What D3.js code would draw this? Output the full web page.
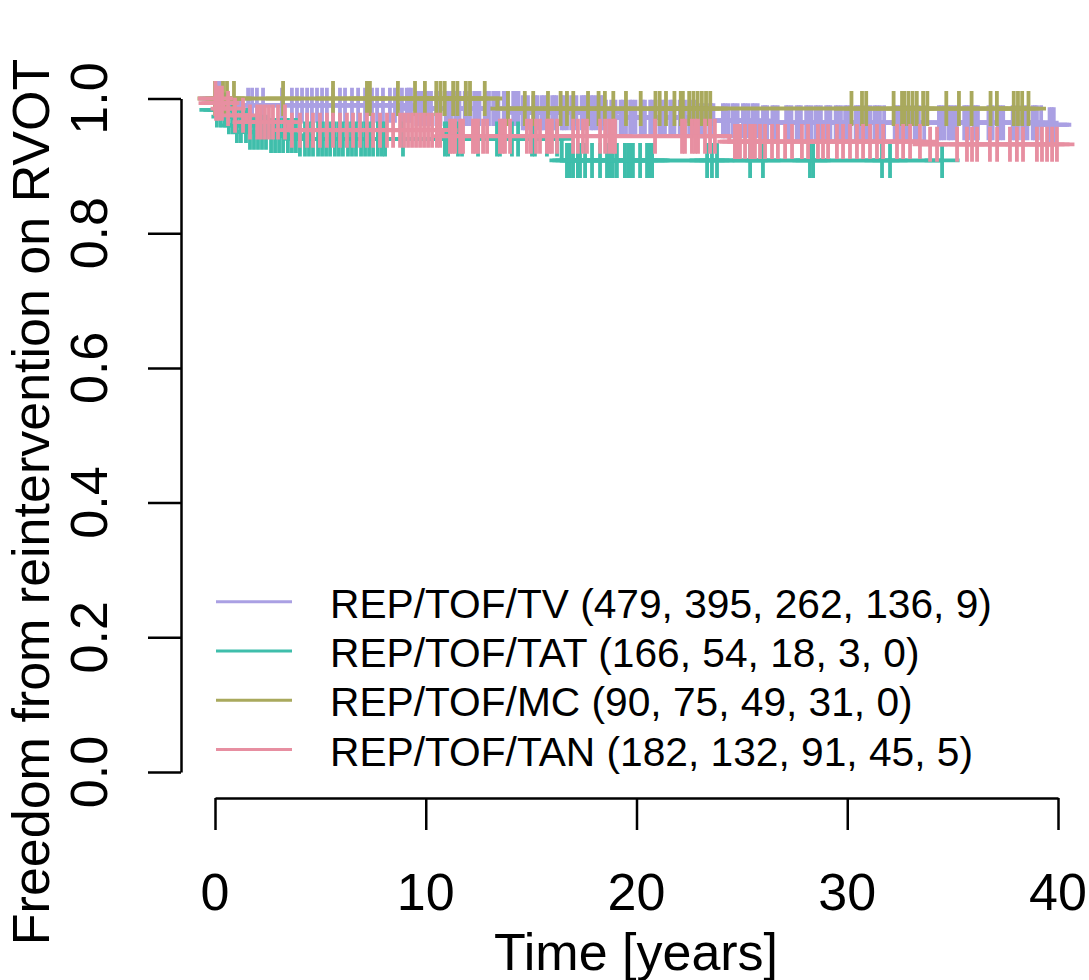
<!doctype html>
<html>
<head>
<meta charset="utf-8">
<title>Freedom from reintervention on RVOT</title>
<script src="https://cdn.jsdelivr.net/npm/d3@7"></script>
<style>
body { margin: 0; background: #fff; }
svg { display: block; font-family: 'Liberation Sans', Arial, Helvetica, sans-serif; }
.axis path, .axis line { stroke: #000; stroke-width: 2.5; fill: none; }
</style>
</head>
<body>
<svg id="chart" width="1089" height="980"></svg>
<script>
// group names and numbers at risk (0,10,20,30,40 years)
var groups = ["REP/TOF/TV", "REP/TOF/TAT", "REP/TOF/MC", "REP/TOF/TAN"];
var atRisk = [[479, 395, 262, 136, 9], [166, 54, 18, 3, 0], [90, 75, 49, 31, 0], [182, 132, 91, 45, 5]];
var colors = ["#aaa0e3", "#3fbeab", "#a9a95d", "#e78fa1"];

var xTicks = [0, 10, 20, 30, 40];
var yTicks = [0, 0.2, 0.4, 0.6, 0.8, 1.0];

// step changes: time (years) and survival
var tvTime = [0, 0.4, 1.2, 9.5, 14.5, 18.5, 23, 26, 39.6];
var tvSurv = [1, 0.996, 0.99, 0.985, 0.979, 0.972, 0.967, 0.964, 0.961];
var tatTime = [0, 0.02, 0.5, 1.0, 1.5, 2.5, 4.0, 16.45];
var tatSurv = [1, 0.983, 0.973, 0.96, 0.95, 0.945, 0.94, 0.908];
var mcTime = [0, 13.4];
var mcSurv = [1, 0.985];
var tanTime = [0, 0.04, 0.4, 0.9, 1.5, 3.5, 10.8, 24.4, 33.5];
var tanSurv = [1, 0.993, 0.985, 0.975, 0.965, 0.953, 0.944, 0.936, 0.932];

// censoring times
var tvCens = [0.1, 0.24, 1.57, 1.76, 1.99, 2.28, 3.18, 3.65, 3.89, 4.13, 4.37, 4.6, 4.84, 5.08, 5.31, 5.6, 5.93, 6.17, 6.5, 6.79, 7.12, 7.45, 7.69, 7.97, 8.3, 8.54, 8.87,
  9.1, 9.2, 9.3, 9.55, 9.65, 9.8, 10.0, 10.1, 10.25, 10.5, 10.6, 10.7, 10.95, 11.05, 11.2, 11.4, 11.5, 11.6, 11.85, 11.95, 12.1, 12.3, 12.4, 12.55, 12.8, 12.9,
  13.0, 13.2, 13.3, 13.45, 13.7, 13.8, 13.9, 14.15, 14.25, 14.4, 14.6, 14.7, 14.85, 15.1, 15.2, 15.3, 15.5, 15.6, 15.75, 16.0, 16.1, 16.2, 16.45, 16.55, 16.7,
  16.9, 17.0, 17.15, 17.4, 17.5, 17.6, 17.85, 17.95, 18.1, 18.3, 18.4, 18.55, 18.8, 18.9, 19.0, 19.25, 19.35, 19.5, 19.7, 19.8, 19.95, 20.2, 20.3, 20.4, 20.65,
  20.75, 20.9, 21.1, 21.2, 21.35, 21.6, 21.7, 21.8, 22.05, 22.15, 22.3, 22.5, 22.6, 22.75, 23.0, 23.1, 23.2, 23.45, 23.55, 23.65, 24.1, 24.2, 24.35, 24.55,
  24.65, 24.8, 25.05, 25.15, 25.3, 25.5, 25.6, 25.75, 26.0, 26.1, 26.2, 26.45, 26.55, 26.7, 27.1, 27.2, 27.35, 27.6, 27.7, 27.8, 28.05, 28.15, 28.3, 28.5,
  28.6, 28.75, 29.0, 29.1, 29.2, 29.45, 29.55, 29.7, 29.9, 30.0, 30.15, 30.4, 30.5, 30.6, 30.85, 30.95, 31.1, 31.3, 31.4, 31.55, 31.75, 32.25, 32.35, 32.5,
  32.7, 32.8, 32.95, 33.2, 33.3, 33.4, 33.65, 34.35, 34.45, 34.6, 34.8, 34.9, 35.05, 35.2, 35.55, 35.65, 35.75, 36.0, 36.1, 36.2, 36.7, 36.8, 36.9, 37.15,
  37.25, 37.4, 37.85, 37.95, 38.1, 38.3, 38.4, 38.55, 38.8, 38.9, 39.0, 39.2, 39.6, 39.7, 39.8];
var tatCens = [0.09, 0.28, 0.47, 0.66, 0.85, 1.04, 1.23, 1.47, 1.66, 1.85, 2.04, 2.23, 2.42, 2.66, 2.85, 3.04, 3.23, 3.46, 3.65, 3.84, 4.03, 4.27, 4.46, 4.65,
  4.89, 5.08, 5.27, 5.46, 5.69, 5.88, 6.07, 6.31, 6.5, 6.69, 6.93, 7.12, 7.31, 7.5, 7.73, 7.92, 8.07, 8.92, 10.91, 11.06, 11.53, 11.72, 12.48, 13.38, 13.52,
  14.09, 14.38, 15.04, 15.18, 15.75, 16.23, 16.7, 16.84, 16.99, 17.22, 17.32, 17.56, 17.89, 18.27, 18.6, 18.74, 18.88, 19.07, 19.45, 19.6, 19.69, 19.83,
  20.17, 20.5, 20.64, 20.74, 23.35, 23.58, 23.82, 25.39, 26.0, 28.23, 28.38, 31.65, 32.03, 34.5];
var mcCens = [0.0, 0.38, 0.57, 0.9, 3.23, 5.6, 7.21, 7.35, 8.68, 9.49, 9.96, 10.5, 10.7, 10.9, 11.3, 11.5, 11.9, 12.1, 12.8, 13.9, 14.7, 15.1, 15.8, 16.4,
  16.7, 17.0, 17.7, 18.2, 18.5, 18.9, 19.5, 20.2, 20.9, 21.1, 21.4, 21.8, 22.1, 22.2, 22.5, 22.7, 22.9, 23.1, 23.3, 23.5, 30.2, 30.7, 30.9, 32.2, 32.6,
  32.7, 32.9, 33.1, 33.3, 33.6, 33.8, 34.7, 35.3, 35.9, 36.8, 37.1, 37.9, 38.1, 38.3, 38.6];
var tanCens = [0.02, 0.05, 0.19, 0.33, 0.62, 0.95, 1.33, 1.66, 2.0, 2.18, 2.37, 2.56, 2.75, 2.99, 3.32, 3.65, 4.03, 4.37, 4.65, 4.98, 5.31, 5.6, 5.93, 6.26,
  6.55, 6.88, 7.21, 7.5, 7.83, 8.16, 8.45, 8.78, 8.97, 9.16, 9.35, 9.54, 9.73, 9.92, 10.11, 10.3, 10.53, 10.68, 11.15, 11.27, 11.39, 11.63, 11.77, 12.24,
  12.36, 12.48, 12.72, 12.91, 13.52, 13.64, 13.76, 14.0, 14.8, 14.99, 15.23, 15.42, 15.75, 15.87, 15.99, 16.23, 16.99, 17.22, 17.46, 17.65, 18.27, 18.51,
  18.7, 18.88, 18.98, 20.88, 22.16, 22.3, 22.63, 22.78, 22.92, 23.25, 23.49, 23.72, 24.67, 24.79, 24.91, 25.15, 25.39, 25.5, 25.62, 25.86, 26.1, 26.43,
  26.71, 27.05, 27.38, 27.85, 28.14, 28.61, 28.85, 29.09, 29.51, 29.8, 30.13, 30.46, 30.75, 31.08, 31.41, 31.7, 32.36, 32.65, 32.98, 33.45, 33.93, 34.26,
  35.21, 35.68, 35.92, 36.16, 36.77, 37.11, 37.72, 38.05, 38.34, 39.0, 39.24, 39.48, 39.72, 39.95];

var curves = [
  {time: tvTime, surv: tvSurv, cens: tvCens},
  {time: tatTime, surv: tatSurv, cens: tatCens},
  {time: mcTime, surv: mcSurv, cens: mcCens},
  {time: tanTime, surv: tanSurv, cens: tanCens}
];

var svg = d3.select("#chart");

var x = d3.scaleLinear().domain([0, 40]).range([215, 1058]);
var y = d3.scaleLinear().domain([0, 1]).range([772, 98.5]);

var markSize = 17.5;

// survival value at time t (step function)
function survAt(c, t) {
  var s = c.surv[0];
  for (var i = 0; i < c.time.length; i++) {
    if (c.time[i] <= t) s = c.surv[i];
  }
  return s;
}

var line = d3.line()
  .x(function(d) { return x(d[0]); })
  .y(function(d) { return y(d[1]); })
  .curve(d3.curveStepAfter);

var gCurves = svg.append("g");
curves.forEach(function(c, i) {
  var last = d3.max(c.cens);
  var pts = c.time.map(function(t, j) { return [t, c.surv[j]]; });
  pts.push([last, survAt(c, last)]);

  gCurves.append("path")
    .datum(pts)
    .attr("d", line)
    .attr("fill", "none")
    .attr("stroke", colors[i])
    .attr("stroke-width", 4);

  var marks = gCurves.append("g").attr("stroke", colors[i]).attr("stroke-width", 3.8);
  marks.selectAll("path")
    .data(c.cens)
    .join("path")
    .attr("d", function(t) {
      var px = x(t), py = y(survAt(c, t));
      return "M" + (px - markSize) + "," + py + "H" + (px + markSize) +
        "M" + px + "," + (py - markSize) + "V" + (py + markSize);
    });
});

// y axis
var yAxis = svg.append("g")
  .attr("class", "axis")
  .attr("transform", "translate(181,0)")
  .call(d3.axisLeft(y).tickValues(yTicks).tickSize(33).tickSizeOuter(0).tickFormat(""));
yAxis.selectAll("text").remove();
svg.append("g").selectAll("text")
  .data(yTicks)
  .join("text")
  .attr("transform", function(d) { return "translate(107," + y(d) + ") rotate(-90)"; })
  .attr("text-anchor", "middle")
  .attr("font-size", 52)
  .text(d3.format(".1f"));

// x axis
var xAxis = svg.append("g")
  .attr("class", "axis")
  .attr("transform", "translate(0,798)")
  .call(d3.axisBottom(x).tickValues(xTicks).tickSize(32).tickSizeOuter(0).tickFormat(""));
xAxis.selectAll("text").remove();
svg.append("g").selectAll("text")
  .data(xTicks)
  .join("text")
  .attr("x", function(d) { return x(d); })
  .attr("y", 910)
  .attr("text-anchor", "middle")
  .attr("font-size", 52)
  .text(function(d) { return d; });

// axis titles
svg.append("text")
  .attr("x", 636)
  .attr("y", 970)
  .attr("text-anchor", "middle")
  .attr("font-size", 52)
  .text("Time [years]");

svg.append("text")
  .attr("transform", "translate(49,502) rotate(-90)")
  .attr("text-anchor", "middle")
  .attr("font-size", 52)
  .text("Freedom from reintervention on RVOT");

// legend
var legend = svg.append("g");
groups.forEach(function(g, i) {
  var ly = 601.7 + i * 49.3;
  legend.append("line")
    .attr("x1", 216).attr("x2", 292)
    .attr("y1", ly).attr("y2", ly)
    .attr("stroke", colors[i])
    .attr("stroke-width", 3);
  legend.append("text")
    .attr("x", 330)
    .attr("y", ly + 16)
    .attr("font-size", 40.7)
    .text(g + " (" + atRisk[i].join(", ") + ")");
});
</script>
</body>
</html>
